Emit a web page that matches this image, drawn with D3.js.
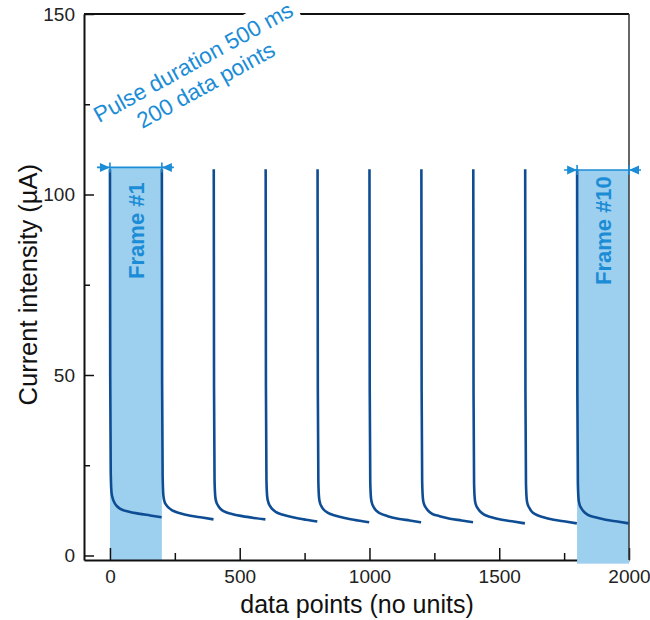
<!DOCTYPE html>
<html>
<head>
<meta charset="utf-8">
<script src="https://cdn.jsdelivr.net/npm/d3@7"></script>
<style>
  body { margin: 0; background: #fff; }
  text { font-family: "Liberation Sans", Arial, sans-serif; }
</style>
</head>
<body>
<div id="graph"></div>
<script>
// pulse start positions (data points) and sample offsets inside each 200-point pulse
var pulseStarts = [0, 200, 400, 600, 800, 1000, 1200, 1400, 1600, 1800];
var sampleOffsets = [0, 1, 3, 6, 10, 16, 25, 40, 70, 110, 155, 199];

// current (µA), one array per pulse
var pulse1 = [107, 50, 23, 17.5, 16.0, 14.8, 13.8, 12.9, 12.2, 11.6, 11.1, 10.6];
var pulse2 = [107, 48, 22, 16.5, 15.0, 14.1, 13.3, 12.5, 11.7, 11.0, 10.5, 10.0];
var pulse3 = [107, 47, 21, 16.2, 14.8, 13.9, 13.0, 12.2, 11.5, 10.9, 10.4, 10.0];
var pulse4 = [107, 47, 21, 16.2, 14.8, 13.8, 12.9, 12.0, 11.2, 10.5, 9.9, 9.4];
var pulse5 = [107, 46, 20.5, 15.8, 14.4, 13.5, 12.6, 11.8, 11.0, 10.3, 9.7, 9.2];
var pulse6 = [107, 46, 20.5, 15.8, 14.4, 13.4, 12.5, 11.7, 10.9, 10.2, 9.7, 9.2];
var pulse7 = [107, 46, 20.5, 15.7, 14.3, 13.4, 12.5, 11.6, 10.9, 10.2, 9.7, 9.2];
var pulse8 = [107, 45, 20, 15.5, 14.1, 13.2, 12.3, 11.4, 10.6, 9.9, 9.4, 8.9];
var pulse9 = [107, 45, 20, 15.5, 14.1, 13.2, 12.2, 11.4, 10.6, 9.9, 9.4, 8.9];
var pulse10 = [107, 45, 20, 15.4, 14.0, 13.1, 12.2, 11.3, 10.6, 9.9, 9.4, 8.9];
var pulses = [pulse1, pulse2, pulse3, pulse4, pulse5, pulse6, pulse7, pulse8, pulse9, pulse10];

// highlighted frames
var frameLabels = ["Frame #1", "Frame #10"];
var frameStarts = [0, 1800];
var frameEnds = [200, 2000];
var frameTops = [107.5, 106.8];
var frameBottoms = [-1.25, -2.2];

var xTicks = [0, 500, 1000, 1500, 2000];
var xMinorTicks = [250, 750, 1250, 1750];
var yTicks = [0, 50, 100, 150];
var yMinorTicks = [25, 75, 125];

var noteLines = ["Pulse duration 500 ms", "200 data points"];

var width = 650,
    height = 620;

var x = d3.scaleLinear().domain([-100, 2000]).range([84, 629]);
var y = d3.scaleLinear().domain([-1.25, 150]).range([560, 14]);

var curveColor = "#0e4d93",
    accent = "#1b8cd6",
    fillColor = "#9dcfee";

var svg = d3.select("#graph")
    .append("svg")
    .attr("width", width)
    .attr("height", height);

// frame fills
frameLabels.forEach(function (lab, i) {
    svg.append("rect")
        .attr("x", x(frameStarts[i]))
        .attr("y", y(frameTops[i]))
        .attr("width", x(frameEnds[i]) - x(frameStarts[i]))
        .attr("height", y(frameBottoms[i]) - y(frameTops[i]))
        .style("fill", fillColor);
});

// top border (the annotation box breaks it)
svg.append("line")
    .attr("x1", x(-100)).attr("x2", x(2000))
    .attr("y1", y(150)).attr("y2", y(150))
    .style("stroke", "#111").style("stroke-width", 2);

// pulse annotation
var note = svg.append("g")
    .attr("transform", "translate(197,69) rotate(-29)");
var noteBg = note.append("rect").style("fill", "#fff");
noteLines.forEach(function (t, i) {
    note.append("text")
        .attr("x", 0)
        .attr("y", i * 26)
        .attr("text-anchor", "middle")
        .style("font-size", "22.5px")
        .style("fill", accent)
        .text(t);
});
var bb = note.node().getBBox();
noteBg.attr("x", bb.x - 5).attr("y", bb.y - 5)
    .attr("width", bb.width + 10).attr("height", bb.height + 10);

// axes
svg.append("g")
    .attr("transform", "translate(0," + y(-1.25) + ")")
    .call(d3.axisBottom(x).tickValues(xTicks).tickFormat(d3.format("d"))
        .tickSize(-12).tickSizeOuter(0).tickPadding(10));
svg.append("g")
    .attr("transform", "translate(0," + y(-1.25) + ")")
    .call(d3.axisBottom(x).tickValues(xMinorTicks).tickSize(-7).tickSizeOuter(0).tickFormat(""))
    .select(".domain").remove();

svg.append("g")
    .attr("transform", "translate(" + x(-100) + ",0)")
    .call(d3.axisLeft(y).tickValues(yTicks).tickFormat(d3.format("d"))
        .tickSize(-10).tickSizeOuter(0).tickPadding(9));
svg.append("g")
    .attr("transform", "translate(" + x(-100) + ",0)")
    .call(d3.axisLeft(y).tickValues(yMinorTicks).tickSize(-6).tickSizeOuter(0).tickFormat(""))
    .select(".domain").remove();

svg.selectAll(".domain").style("stroke", "#111").style("stroke-width", 2);
svg.selectAll(".tick line").style("stroke", "#111").style("stroke-width", 1.5);
svg.selectAll(".tick text").style("font-size", "19px").style("fill", "#222")
    .style("font-family", "'Liberation Sans', Arial, sans-serif");

// frame 10 covers the bottom axis line
svg.append("rect")
    .attr("x", x(frameStarts[1]))
    .attr("y", y(-1.25) - 2)
    .attr("width", x(frameEnds[1]) - x(frameStarts[1]))
    .attr("height", y(frameBottoms[1]) - y(-1.25) + 2)
    .style("fill", fillColor);

// right border
svg.append("line")
    .attr("x1", x(2000)).attr("x2", x(2000))
    .attr("y1", y(150)).attr("y2", y(-1.25))
    .style("stroke", "#333").style("stroke-width", 1.5);

// current traces
var line = d3.line()
    .x(function (d) { return x(d[0]); })
    .y(function (d) { return y(d[1]); })
    .curve(d3.curveMonotoneX);

pulses.forEach(function (vals, i) {
    var pts = vals.map(function (v, j) {
        return [pulseStarts[i] + sampleOffsets[j], v];
    });
    svg.append("path")
        .datum(pts)
        .attr("d", line)
        .style("fill", "none")
        .style("stroke", curveColor)
        .style("stroke-width", 2.6)
        .style("stroke-linejoin", "round");
});

// frame dimension arrows + labels
frameLabels.forEach(function (lab, i) {
    var x0 = x(frameStarts[i]),
        x1 = x(frameEnds[i]),
        yy = y(frameTops[i]);
    svg.append("line")
        .attr("x1", x0 - 13).attr("x2", x1 + 12)
        .attr("y1", yy).attr("y2", yy)
        .style("stroke", accent).style("stroke-width", 1.6);
    svg.append("path")
        .attr("d", "M" + x0 + "," + yy + "l-10,-4.5v9z")
        .style("fill", accent);
    svg.append("path")
        .attr("d", "M" + x1 + "," + yy + "l10,-4.5v9z")
        .style("fill", accent);
    [x0, x1].forEach(function (xx) {
        svg.append("line")
            .attr("x1", xx).attr("x2", xx)
            .attr("y1", yy - 5).attr("y2", yy + 5)
            .style("stroke", accent).style("stroke-width", 1.6);
    });
    svg.append("text")
        .attr("transform", "translate(" + ((x0 + x1) / 2 + 8) + "," + y(90) + ") rotate(-90)")
        .attr("text-anchor", "middle")
        .style("font-size", "22px")
        .style("font-weight", "bold")
        .style("fill", accent)
        .text(lab);
});

// axis titles
svg.append("text")
    .attr("x", 357)
    .attr("y", 613)
    .attr("text-anchor", "middle")
    .style("font-size", "25px")
    .style("fill", "#111")
    .text("data points (no units)");

svg.append("text")
    .attr("transform", "translate(37," + y(75) + ") rotate(-90)")
    .attr("text-anchor", "middle")
    .style("font-size", "25.5px")
    .style("fill", "#111")
    .text("Current intensity (µA)");
</script>
</body>
</html>
